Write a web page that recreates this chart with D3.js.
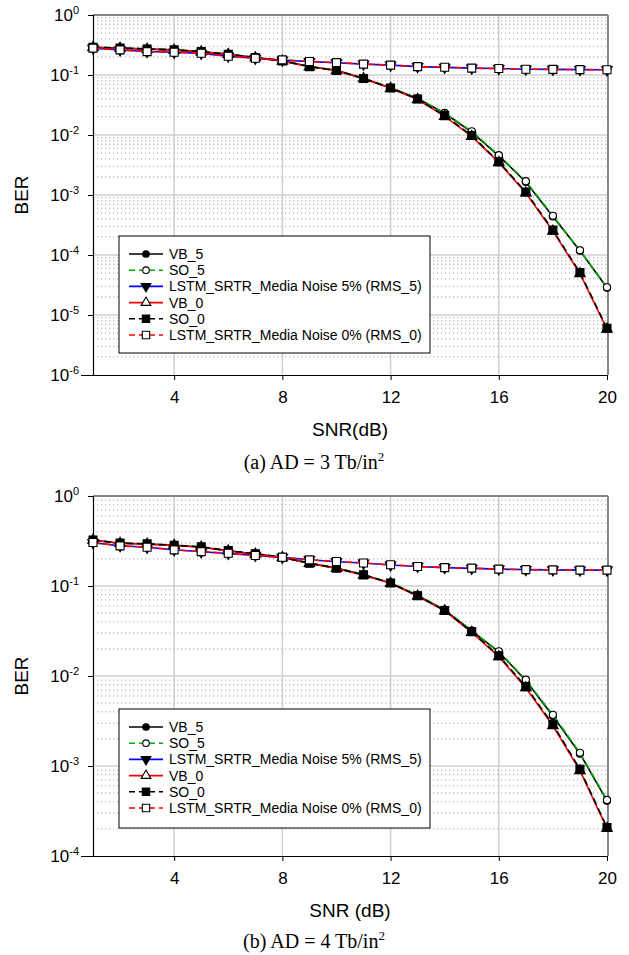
<!DOCTYPE html>
<html><head><meta charset="utf-8">
<script src="https://cdn.jsdelivr.net/npm/d3@7"></script>
<style>body{margin:0;background:#fff}svg{display:block}</style>
</head><body>
<svg id="c" width="629" height="955"></svg>
<script>
// ---------- DATA ----------
const snr = [1,2,3,4,5,6,7,8,9,10,11,12,13,14,15,16,17,18,19,20];
const seriesNames = ["VB_5","SO_5","LSTM_SRTR_Media Noise 5% (RMS_5)","VB_0","SO_0","LSTM_SRTR_Media Noise 0% (RMS_0)"];
const xTicks = [4,8,12,16,20];

// (a) AD = 3 Tb/in^2
const a_VB5  = [0.289,0.280,0.272,0.262,0.245,0.222,0.195,0.172,0.139,0.120,0.088,0.061,0.0405,0.0230,0.0112,0.0045,0.00165,0.00044,0.000118,0.0000285];
const a_SO5  = [0.290,0.281,0.273,0.263,0.246,0.223,0.196,0.173,0.140,0.120,0.089,0.0615,0.041,0.0233,0.0115,0.0046,0.0017,0.00045,0.00012,0.000029];
const a_RMS5 = [0.279,0.261,0.246,0.239,0.229,0.206,0.190,0.178,0.167,0.160,0.152,0.146,0.138,0.134,0.130,0.128,0.125,0.124,0.123,0.122];
const a_VB0  = [0.288,0.279,0.270,0.260,0.243,0.220,0.194,0.170,0.137,0.118,0.087,0.060,0.039,0.0205,0.0095,0.0035,0.00108,0.00025,0.000049,0.0000058];
const a_SO0  = [0.290,0.280,0.272,0.262,0.245,0.222,0.195,0.172,0.138,0.119,0.0875,0.0606,0.0398,0.021,0.0098,0.00357,0.00112,0.00026,0.000051,0.000006];
const a_RMS0 = [0.280,0.262,0.245,0.240,0.230,0.205,0.190,0.179,0.168,0.161,0.152,0.146,0.138,0.135,0.130,0.128,0.125,0.124,0.123,0.122];
const a_yExp = [0,-1,-2,-3,-4,-5,-6];

// (b) AD = 4 Tb/in^2
const b_VB5  = [0.323,0.299,0.293,0.283,0.271,0.246,0.227,0.208,0.179,0.158,0.133,0.108,0.0785,0.054,0.0318,0.0185,0.0089,0.0036,0.00137,0.00041];
const b_SO5  = [0.325,0.300,0.294,0.284,0.272,0.247,0.228,0.209,0.180,0.159,0.134,0.109,0.079,0.0545,0.032,0.0188,0.0091,0.0037,0.0014,0.00042];
const b_RMS5 = [0.303,0.280,0.269,0.253,0.240,0.230,0.219,0.208,0.196,0.186,0.180,0.171,0.165,0.160,0.157,0.154,0.152,0.151,0.150,0.150];
const b_VB0  = [0.323,0.298,0.292,0.282,0.270,0.245,0.226,0.207,0.178,0.157,0.132,0.107,0.077,0.053,0.0305,0.0164,0.0074,0.0028,0.00089,0.000203];
const b_SO0  = [0.325,0.300,0.294,0.284,0.272,0.247,0.228,0.209,0.179,0.158,0.133,0.108,0.078,0.0535,0.031,0.0168,0.0076,0.0029,0.00092,0.000207];
const b_RMS0 = [0.304,0.279,0.270,0.252,0.241,0.231,0.218,0.209,0.195,0.187,0.180,0.172,0.165,0.160,0.158,0.154,0.152,0.151,0.150,0.150];
const b_yExp = [0,-1,-2,-3,-4];

// ---------- STYLE ----------
const styles = [
  {color:"#000000", dash:null,  sym:"circle",   fill:"#000"},
  {color:"#00b000", dash:"7,4", sym:"circle",   fill:"#fff"},
  {color:"#0000ff", dash:null,  sym:"triDown",  fill:"#000"},
  {color:"#ff0000", dash:null,  sym:"triUp",    fill:"#fff"},
  {color:"#000000", dash:"7,4", sym:"square",   fill:"#000"},
  {color:"#ff0000", dash:"7,4", sym:"square",   fill:"#fff"}
];
const FONT = "Arial, 'Liberation Sans', sans-serif";
const svg = d3.select("#c");

function marker(g, type, x, y, fill, big){
  const s = big ? 1 : 0.85;
  let p;
  if(type==="circle") p = d3.symbol(d3.symbolCircle, 40*s);
  else if(type==="square") p = d3.symbol(d3.symbolSquare, 64*s);
  else p = d3.symbol(d3.symbolTriangle, 48*s);
  const rot = type==="triDown" ? 180 : 0;
  g.append("path").attr("d", p())
    .attr("transform",`translate(${x},${y}) rotate(${rot})`)
    .attr("fill", fill).attr("stroke","#000").attr("stroke-width",1.1);
}

function drawChart(cfg){
  const {top, bottom, left, right, yExp, series, xTitle, caption, captionY, legendY, legendH} = cfg;
  const x = d3.scaleLinear().domain([1,20]).range([left,right]);
  const y = d3.scaleLog().domain([Math.pow(10,yExp[yExp.length-1]), 1]).range([bottom, top]);
  const g = svg.append("g");

  // minor dotted grid
  for(let k=yExp[yExp.length-1]; k<0; k++){
    for(let m=2;m<=9;m++){
      const v = m*Math.pow(10,k);
      g.append("line").attr("x1",left).attr("x2",right).attr("y1",y(v)).attr("y2",y(v))
        .attr("stroke","#a8a8a8").attr("stroke-width",1).attr("stroke-dasharray","1.2,2.8");
    }
  }
  // major grid
  yExp.forEach(e=>{
    if(e===0 || e===yExp[yExp.length-1]) return;
    g.append("line").attr("x1",left).attr("x2",right).attr("y1",y(Math.pow(10,e))).attr("y2",y(Math.pow(10,e)))
      .attr("stroke","#cfcfcf").attr("stroke-width",1.5);
  });
  xTicks.forEach(t=>{
    if(t===20) return;
    g.append("line").attr("x1",x(t)).attr("x2",x(t)).attr("y1",top).attr("y2",bottom)
      .attr("stroke","#cfcfcf").attr("stroke-width",1.5);
  });

  // frame: top & right gray
  g.append("line").attr("x1",left).attr("x2",right+1).attr("y1",top).attr("y2",top).attr("stroke","#858585").attr("stroke-width",2);
  g.append("line").attr("x1",right+1).attr("x2",right+1).attr("y1",top).attr("y2",bottom).attr("stroke","#858585").attr("stroke-width",2);

  // axes
  const xAxis = d3.axisBottom(x).tickValues(xTicks).tickSize(5).tickFormat(d3.format("d"));
  const xa = g.append("g").attr("transform",`translate(0,${bottom})`).call(xAxis);
  xa.select(".domain").attr("stroke","#000").attr("stroke-width",1.2).attr("d",`M${left-12},0.5H${right+0.5}`);
  xa.selectAll(".tick line").attr("stroke","#000");
  xa.selectAll(".tick text").attr("font-family",FONT).attr("font-size",17).attr("fill","#000").attr("dy","1.15em");

  const yAxis = d3.axisLeft(y).tickValues(yExp.map(e=>Math.pow(10,e))).tickSize(5).tickFormat("");
  const ya = g.append("g").attr("transform",`translate(${left},0)`).call(yAxis);
  ya.select(".domain").attr("stroke","#000").attr("stroke-width",1.2).attr("d",`M0.5,${top}V${bottom}`);
  ya.selectAll(".tick line").attr("stroke","#000");
  yExp.forEach(e=>{
    const t = g.append("text").attr("x",left-14).attr("y",y(Math.pow(10,e))+6)
      .attr("text-anchor","end").attr("font-family",FONT).attr("font-size",17).attr("fill","#000");
    t.append("tspan").text("10");
    t.append("tspan").attr("font-size",11).attr("dy",-7).text(String(e).replace("-","-"));
  });

  // axis titles
  g.append("text").attr("transform",`translate(28,${(top+bottom)/2}) rotate(-90)`)
    .attr("text-anchor","middle").attr("font-family",FONT).attr("font-size",19).text("BER");
  g.append("text").attr("x",(left+right)/2).attr("y",bottom+61).attr("text-anchor","middle")
    .attr("font-family",FONT).attr("font-size",19).text(xTitle);
  const cap = g.append("text").attr("x",314).attr("y",captionY).attr("text-anchor","middle")
    .attr("font-family","'Times New Roman','Liberation Serif',serif").attr("font-size",20);
  cap.append("tspan").text(caption);
  cap.append("tspan").attr("font-size",13).attr("dy",-8).text("2");

  // series
  const line = d3.line().x((d,i)=>x(snr[i])).y(d=>y(d));
  series.forEach((s,si)=>{
    const st = styles[si];
    const p = g.append("path").datum(s).attr("d",line).attr("fill","none")
      .attr("stroke",st.color).attr("stroke-width",1.6);
    if(st.dash) p.attr("stroke-dasharray",st.dash);
    s.forEach((v,i)=>marker(g, st.sym, x(snr[i]), y(v), st.fill, true));
  });

  // legend
  const lx = 119, lw = 311;
  g.append("rect").attr("x",lx).attr("y",legendY).attr("width",lw).attr("height",legendH)
    .attr("fill","#fff").attr("stroke","#000").attr("stroke-width",1);
  seriesNames.forEach((name,i)=>{
    const st = styles[i];
    const ry = legendY + 18 + i*16.2;
    const l = g.append("line").attr("x1",lx+10).attr("x2",lx+44).attr("y1",ry).attr("y2",ry)
      .attr("stroke",st.color).attr("stroke-width",1.6);
    if(st.dash) l.attr("stroke-dasharray","6,4");
    marker(g, st.sym, lx+27, ry, st.fill, false);
    g.append("text").attr("x",lx+50).attr("y",ry+5).attr("font-family",FONT).attr("font-size",14)
      .attr("fill","#000").text(name);
  });
}

drawChart({top:15, bottom:375, left:93, right:607, yExp:a_yExp,
  series:[a_VB5,a_SO5,a_RMS5,a_VB0,a_SO0,a_RMS0],
  xTitle:"SNR(dB)", caption:"(a) AD = 3 Tb/in", captionY:469, legendY:236, legendH:117});
drawChart({top:496, bottom:856, left:93, right:607, yExp:b_yExp,
  series:[b_VB5,b_SO5,b_RMS5,b_VB0,b_SO0,b_RMS0],
  xTitle:"SNR (dB)", caption:"(b) AD = 4 Tb/in", captionY:948, legendY:709, legendH:119});
</script>
</body></html>
